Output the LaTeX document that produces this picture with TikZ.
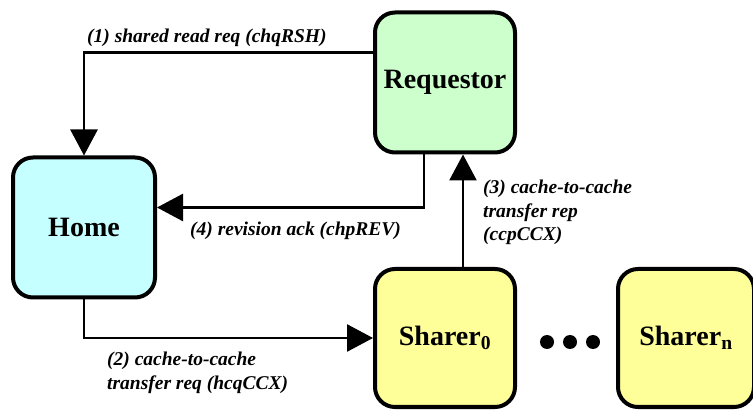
\documentclass[tikz,border=0pt]{standalone}
\usepackage{fontspec}
\setmainfont{Liberation Serif}
\usetikzlibrary{arrows.meta}
\definecolor{reqgreen}{HTML}{CCFFCC}
\definecolor{homecyan}{HTML}{C6FFFF}
\definecolor{sharyellow}{HTML}{FFFF99}
\tikzset{
  agent/.style={draw,line width=4pt,rounded corners=20pt,minimum width=140pt,
    minimum height=140pt,font=\fontsize{28}{32}\selectfont\bfseries},
  flow/.style={line width=2.6pt,-{Triangle[length=26pt,width=27pt]}},
  msg/.style={inner sep=0pt,align=left,font=\fontsize{19.5}{23.5}\selectfont\bfseries\itshape}
}
\begin{document}
\begin{tikzpicture}[x=1pt,y=1pt]
  \useasboundingbox (0,0) rectangle (753,410);
  \node[agent,fill=reqgreen] (req) at (445,327.5) {Requestor};
  \node[agent,fill=homecyan,minimum width=142pt] (home) at (84,182.5) {Home};
  \node[agent,fill=sharyellow,minimum height=138pt] (sh0) at (445,72) {Sharer\textsubscript{0}};
  \node[agent,fill=sharyellow,minimum height=138pt,minimum width=136pt] (shn) at (686,72) {Sharer\textsubscript{n}};
  \foreach \dotx in {547,570,593}{
    \fill (\dotx,68) circle (7pt);
  }
  % messages
  \draw[flow] ([yshift=30pt]req.west) -| (home.north);
  \draw[flow] (home.south) |- (sh0.west);
  \draw[flow] ([xshift=18pt]sh0.north) -- ([xshift=18pt]req.south);
  \draw[flow] ([xshift=-21pt]req.south) |- ([yshift=20pt]home.east);
  \node[msg,anchor=base west] (m1) at (87,367) {(1) shared read req (chqRSH)};
  \node[msg,anchor=north west] (m2) at (107,58) {(2) cache-to-cache\\transfer req (hcqCCX)};
  \node[msg,anchor=north west] (m3) at (483,230) {(3) cache-to-cache\\transfer rep\\(ccpCCX)};
  \node[msg,anchor=base west] (m4) at (190,174) {(4) revision ack (chpREV)};
\end{tikzpicture}
\end{document}
